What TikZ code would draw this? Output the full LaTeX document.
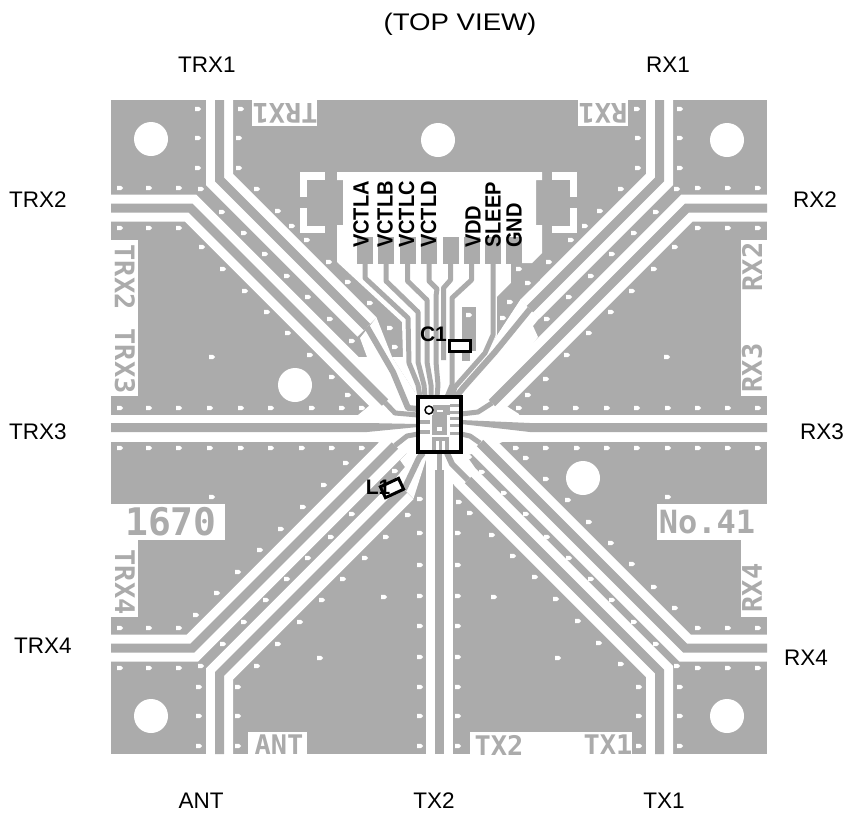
\documentclass[tikz,border=0pt]{standalone}
\usepackage{fontspec}
\setmainfont{Liberation Sans}
\newfontfamily\boardfont{DejaVu Sans Mono}[BoldFont={DejaVu Sans Mono Bold}]
\definecolor{pcb}{HTML}{ABABAB}
\tikzset{
  band/.style={draw=white,line width=27pt,line join=miter,line cap=butt},
  trace/.style={draw=pcb,line width=9pt,line join=miter,line cap=butt},
  fine/.style={draw=pcb,line width=5pt,line join=round,line cap=butt},
  pinlabel/.style={inner sep=0pt,font=\fontsize{22.5}{24}\selectfont},
  silk/.style={inner sep=0pt,text=pcb,font=\boardfont\bfseries\fontsize{27}{27}\selectfont},
  netlabel/.style={inner sep=0pt,rotate=90,xscale=.91,anchor=west,font=\bfseries\fontsize{22}{22}\selectfont},
  hole/.style={fill=white,draw=none},
  blackbox/.style={draw=black,line width=3pt,fill=white},
}
\begin{document}
\begin{tikzpicture}[x=1pt,y=-1pt]
\useasboundingbox (0,0) rectangle (845,815);
% board
\fill[pcb] (111,100) rectangle (767,754);
% white label cut-outs
\fill[white] (252,100) rectangle (317,126);
\fill[white] (578,100) rectangle (628,126);
\fill[white] (111,240) rectangle (138,396);
\fill[white] (741,240) rectangle (767,396);
\fill[white] (111,504) rectangle (225,540);
\fill[white] (111,540) rectangle (138,617);
\fill[white] (657,504) rectangle (767,540);
\fill[white] (741,540) rectangle (767,617);
\fill[white] (248,732) rectangle (307,754);
\fill[white] (470,732) rectangle (632,754);
% brackets
\fill[white] (300,172) rectangle (325,180);
\fill[white] (300,172) rectangle (307,197);
\fill[white] (300,208) rectangle (307,233);
\fill[white] (300,226) rectangle (325,233);
\fill[white] (552,172) rectangle (577,180);
\fill[white] (570,172) rectangle (577,197);
\fill[white] (570,208) rectangle (577,233);
\fill[white] (552,226) rectangle (577,233);
% white fan area
\fill[white] (337,172)--(542,172)--(542,180)--(536,180)--(536,225)--(542,225)--(542,253)--(532,263)--(511,263)--(511,283)--(497,297)--(497,335)--(461,397)--(418,397)--(392,357)--(403,357)--(402,322)--(337,262)--(337,225)--(343,225)--(343,180)--(337,180)--cycle;
% white around the chip
\fill[white] (358,415)--(369,406)--(418,392)--(461,392)--(508,407)--(519,414)--(519,441)--(505,441)--(461,458)--(418,458)--(375,441)--(358,441)--cycle;
% white bands: straight runs
\draw[band] (219.5,100)--(219.5,179.5)--(367,327);
\draw[band] (111,208)--(190.5,208)--(393,410.5)--(418,412);
\draw[band] (111,428)--(418,428);
\draw[band] (111,648)--(192.5,648)--(405,435.5)--(418,432);
\draw[band] (219.5,754)--(219.5,674)--(404,489.5);
\draw[band] (439.5,754)--(439.5,453);
\draw[band] (659.5,754)--(659.5,671.5)--(465,477)--(448,453);
\draw[band] (767,648)--(685,648)--(475,438)--(461,432);
\draw[band] (767,428)--(461,428);
\draw[band] (767,208)--(687,208)--(487,408)--(461,412);
\draw[band] (659.5,100)--(659.5,179.5)--(530,309);
% white areas behind the steep ends of the corner traces
\fill[white] (376.5,317.5)--(392,357)--(418,397)--(400,412)--(378,377)--(358,357)--(367,357)--(360,338)--cycle;
\fill[white] (520.5,299)--(497,335)--(461,397)--(485,408)--(538,337)--(533,326)--(539.5,318)--cycle;
\fill[white] (394.5,479.5)--(405,467)--(400,460)--(415,445)--(428,453)--(413.5,498.5)--cycle;
% gray traces
\draw[trace] (219.5,100)--(219.5,179.5)--(367,327);
\draw[fine,line width=6pt] (367,327)--(393,372)--(408,408)--(418,409);
\draw[trace] (111,208)--(190.5,208)--(385,402.5);
\draw[fine] (385,402.5)--(395,413)--(418,415);
\draw[fill=pcb,draw=none] (111,423)--(367,423)--(418,424)--(418,427)--(367,432)--(111,432)--cycle;
\draw[trace] (111,648)--(192.5,648)--(395,445.5);
\draw[fine] (395,445.5)--(407,436)--(418,434);
\draw[trace] (219.5,754)--(219.5,674)--(404,489.5);
\draw[fine,line width=6pt] (404,489.5)--(419,458)--(423,453);
\draw[trace] (439.5,754)--(439.5,470);
\draw[fine] (439.5,470)--(439.5,453);
\draw[trace] (659.5,754)--(659.5,671.5)--(468,480);
\draw[fine,line width=6pt] (468,480)--(452,464)--(447,453);
\draw[trace] (767,648)--(685,648)--(480,443);
\draw[fine] (480,443)--(470,436)--(461,434);
\draw[fill=pcb,draw=none] (767,423)--(530,423)--(461,420)--(461,424)--(530,432)--(767,432)--cycle;
\draw[trace] (767,208)--(687,208)--(492,403);
\draw[fine] (492,403)--(478,412)--(461,414);
\draw[trace] (659.5,100)--(659.5,179.5)--(530,309);
\draw[fine,line width=6pt] (530,309)--(495,352)--(463,388)--(456,397);
% pads
\foreach \x in {365,386,407.5,429,450.5,471.5,493,513.5}
  \fill[pcb] (\x-8,237) rectangle (\x+8,264);
% fan traces
\draw[fine] (365,264)--(365,278)--(408,318)--(409,363)--(418,385)--(420,397);
\draw[fine] (386,264)--(386,281)--(418,312)--(418,362)--(424,385)--(425,397);
\draw[fine] (407.5,264)--(407.5,281)--(427,300)--(427,362)--(431,385)--(431,397);
\draw[fine] (429,264)--(429,281)--(437,289)--(436,296)--(436,362)--(438,385)--(437,397);
\draw[fine] (450.5,264)--(450.5,280)--(443.5,288)--(443.5,360);
\draw[fine] (471.5,264)--(471.5,280)--(452,298)--(452,385)--(447,397);
\draw[fine] (493,264)--(493,335)--(485,353)--(455,387)--(452,397);
% ground trace below the GND pad
\fill[pcb] (511,264)--(511,283)--(497,297)--(497,335)--(520.5,299)--(540,280)--(530,264)--cycle;
% ground block below the small capacitor
\fill[pcb] (462,307) rectangle (476,351);
\fill[pcb] (462,351) rectangle (470,361);
% vias
\foreach \x/\y in {198/109,198/138,198/168,241/109,239/138,239/168,120/188,149/188,179/188,201/189,257/189,278/211,292/226,307/240,329/262,348/282,370/303,390/328,395/347,222/212,244/233,265/254,287/276,308/297,330/319,352/341,120/228,149/228,179/228,202/247,223/269,245/291,267/312,288/333,310/355,332/377,348/395,212/357,120/408,149/408,179/408,210/408,241/408,271/408,312/408,342/408,362/408,
637/109,638/138,638/168,680/109,680/138,680/168,677/189,698/188,728/188,758/188,621/189,600/211,585/226,571/240,549/262,528/283,510/302,503/318,519/269,656/212,634/233,612/254,591/276,569/297,547/319,698/228,728/228,758/228,675/247,654/269,632/291,611/312,589/333,567/355,546/379,528/395,667/357,519/408,546/408,576/408,607/408,637/408,668/408,698/408,728/408,758/408,469/315,
120/448,149/448,179/448,210/448,241/448,271/448,302/448,332/448,362/448,346/463,324/485,303/507,281/529,260/550,238/572,217/593,196/615,212/497,120/628,149/628,179/628,395/471,352/514,331/537,308/558,287/579,266/600,244/622,223/644,201/666,420/499,408/515,386/537,365/558,343/579,322/600,300/622,278/644,257/666,320/658,384/597,420/533,420/565,420/596,420/626,420/657,420/687,420/716,420/746,120/668,149/668,179/668,199/687,199/716,199/746,238/687,238/716,238/746,
516/448,546/448,577/448,607/448,637/448,668/448,698/448,728/448,758/448,526/458,546/479,568/500,589/522,611/543,632/564,654/587,675/608,668/497,698/628,728/628,758/628,469/457,482/472,504/493,526/514,547/537,569/558,591/579,612/600,634/622,656/644,677/666,698/668,728/668,758/668,680/687,680/716,680/746,639/687,639/716,639/746,459/502,470/513,492/535,513/556,535/577,556/599,578/621,599/643,621/664,558/658,494/597,458/533,458/565,458/596,458/626,458/657,458/687,458/716,458/746}
  \fill[white] (\x-3,\y-2.2)--(\x+1,\y-2.2)--(\x+3.2,\y)--(\x+1,\y+2.2)--(\x-3,\y+2.2)--cycle;
% mounting holes
\foreach \x/\y in {151/139,438/140,727/140,295/385,583/478,151/716,727/716}
  \fill[hole] (\x,\y) circle (17);
% silk text
\node[silk,rotate=180] (sTRXa) at (285,113) {TRX1};
\node[silk,rotate=180] (sRXa) at (603,113) {RX1};
\node[silk,rotate=-90] (sTRXb) at (125,277) {TRX2};
\node[silk,rotate=-90] (sTRXc) at (125,361) {TRX3};
\node[silk,rotate=-90] (sTRXd) at (125,582) {TRX4};
\node[silk,rotate=90] (sRXb) at (752,267) {RX2};
\node[silk,rotate=90] (sRXc) at (752,368) {RX3};
\node[silk,rotate=90] (sRXd) at (752,588) {RX4};
\node[silk,font=\boardfont\bfseries\fontsize{38}{38}\selectfont] (s1670) at (171,522) {1670};
\node[silk,font=\boardfont\bfseries\fontsize{32}{32}\selectfont] (sNo) at (707,522) {No.41};
\node[silk] (sANT) at (279,745) {ANT};
\node[silk] (sTXb) at (499,745) {TX2};
\node[silk] (sTXa) at (608,745) {TX1};
% chip
\fill[white] (418,397) rectangle (461,452);
\fill[pcb] (433,405) rectangle (450,415);
\fill[white] (437,409.5) rectangle (443,412);
\fill[pcb] (432,415) rectangle (447,435);
\fill[white] (437,427) rectangle (442,431);
\foreach \y in {405,412,418,425,433}
  \fill[pcb] (450,\y-1.5) rectangle (461,\y+1.5);
\foreach \y in {422,432}
  \fill[pcb] (420,\y-2) rectangle (430,\y+2);
\fill[pcb] (432,437) rectangle (449,452);
\fill[white] (436,441) rectangle (438.5,452);
\fill[white] (442,441) rectangle (444.5,452);
\draw[black,line width=3.2pt] (418,397) rectangle (461,452);
\draw[black,line width=1.5pt,fill=white] (429,410) circle (4);
% components
\draw[blackbox] (449,340) rectangle (470,351);
\draw[blackbox,rotate around={25:(392,488)}] (382,482) rectangle (402,494);
\node[inner sep=0pt,font=\bfseries\fontsize{21}{21}\selectfont] (cone) at (433.5,334) {C1};
\node[inner sep=0pt,font=\bfseries\fontsize{21}{21}\selectfont] (lone) at (378,487) {L1};
% net labels
\node[netlabel] (va) at (361,248) {VCTLA};
\node[netlabel] (vb) at (385,248) {VCTLB};
\node[netlabel] (vc) at (406.5,248) {VCTLC};
\node[netlabel] (vd) at (428.5,248) {VCTLD};
\node[netlabel] (vdd) at (473,248) {VDD};
\node[netlabel] (slp) at (493,248) {SLEEP};
\node[netlabel] (gnd) at (514,248) {GND};
% pin labels
\node[pinlabel,xscale=1.15,font=\fontsize{24}{26}\selectfont] (top) at (460,24) {(TOP VIEW)};
\node[pinlabel] (l1) at (207,65) {TRX1};
\node[pinlabel] (l2) at (668,65) {RX1};
\node[pinlabel] (l3) at (38,200) {TRX2};
\node[pinlabel] (l4) at (815,200) {RX2};
\node[pinlabel] (l5) at (38,432) {TRX3};
\node[pinlabel] (l6) at (822,432) {RX3};
\node[pinlabel] (l7) at (43,646) {TRX4};
\node[pinlabel] (l8) at (806,658) {RX4};
\node[pinlabel] (l9) at (201,801) {ANT};
\node[pinlabel] (l10) at (434,801) {TX2};
\node[pinlabel] (l11) at (664,801) {TX1};
\end{tikzpicture}
\end{document}
